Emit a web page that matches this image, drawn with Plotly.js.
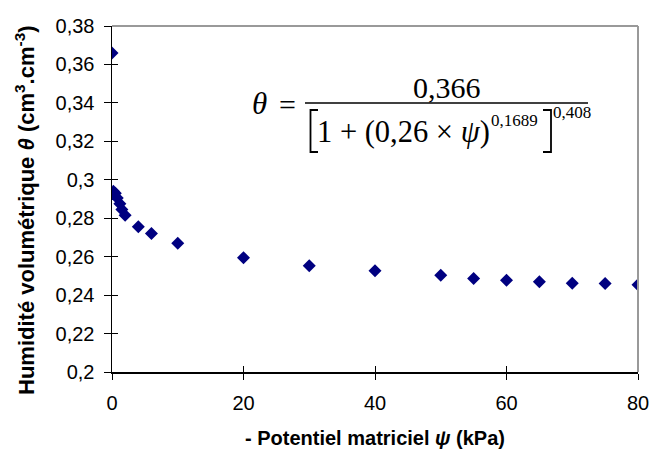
<!DOCTYPE html>
<html>
<head>
<meta charset="utf-8">
<script src="https://cdn.plot.ly/plotly-3.0.1.min.js"></script>
<style>html,body{margin:0;padding:0;background:#fff;}#chart{width:651px;height:451px;}</style>
</head>
<body>
<div id="chart"></div>
<script>
// Data
const potential = [0, 0.2, 0.5, 0.8, 1.2, 1.5, 2, 4, 6, 10, 20, 30, 40, 50, 55, 60, 65, 70, 75, 80];
const theta = [0.366, 0.294, 0.293, 0.2905, 0.2875, 0.2845, 0.2815, 0.2755, 0.272, 0.267, 0.2595, 0.2553, 0.2527, 0.2503, 0.2486, 0.2477, 0.2470, 0.2462, 0.2461, 0.2454];
const xTicks = [0, 20, 40, 60, 80];
const yTicks = [0.2, 0.22, 0.24, 0.26, 0.28, 0.3, 0.32, 0.34, 0.36, 0.38];
const yTickText = ["0,2", "0,22", "0,24", "0,26", "0,28", "0,3", "0,32", "0,34", "0,36", "0,38"];
const xTitle = '- Potentiel matriciel <i>ψ</i> (kPa)';
const yTitle = '<b>Humidité volumétrique <i>θ</i> (cm<sup>3</sup>.cm<sup>-3</sup>)</b>';

const W = 651, H = 451;
const L = 112, R = 638, T = 26, B = 372;
const px = x => (x - L) / (R - L);
const py = y => (B - y) / (B - T);

const serif = "Liberation Serif, Times New Roman, serif";
const sans = "Liberation Sans, Arial, sans-serif";

const trace = {
  x: potential, y: theta, type: 'scatter', mode: 'markers',
  marker: {symbol: 'diamond', size: 10, color: '#000080', line: {width: 0}},
  hoverinfo: 'x+y', showlegend: false
};
// invisible trace to anchor overlay axes (inside halves of crossing ticks)
const ghost = {x: [0], y: [0.2], xaxis: 'x2', yaxis: 'y2', mode: 'markers',
  marker: {opacity: 0}, showlegend: false, hoverinfo: 'skip'};

const layout = {
  width: W, height: H,
  margin: {l: L, r: W - R, t: T, b: H - B},
  paper_bgcolor: '#fff', plot_bgcolor: '#fff',
  font: {family: sans, size: 19, color: '#000'},
  xaxis: {
    range: [0, 80], tickvals: xTicks, ticktext: xTicks.map(String),
    ticks: 'outside', ticklen: 6, tickwidth: 1, tickcolor: '#000',
    showline: true, linecolor: '#000', linewidth: 1.5, showgrid: false, zeroline: false,
    tickfont: {family: sans, size: 20}, ticklabelstandoff: 6,
    title: {text: xTitle, font: {family: sans, size: 20, weight: 'bold'}, standoff: 18}
  },
  yaxis: {
    range: [0.2, 0.38], tickvals: yTicks, ticktext: yTickText,
    ticks: 'outside', ticklen: 7, tickwidth: 1, tickcolor: '#000',
    showline: true, linecolor: '#000', linewidth: 1.5, showgrid: false, zeroline: false,
    tickfont: {family: sans, size: 20}, ticklabelstandoff: 5
  },
  xaxis2: {range: [0, 80], overlaying: 'x', anchor: 'y2', tickvals: xTicks, showticklabels: false,
    ticks: 'inside', ticklen: 6, tickcolor: '#000', showline: false, showgrid: false, zeroline: false},
  yaxis2: {range: [0.2, 0.38], overlaying: 'y', anchor: 'x2', tickvals: yTicks, showticklabels: false,
    ticks: 'inside', ticklen: 6, tickcolor: '#000', showline: false, showgrid: false, zeroline: false},
  shapes: [
    // plot-area border (top & right, gray)
    {type: 'line', xref: 'paper', yref: 'paper', x0: 0, x1: 1, y0: 1, y1: 1, line: {color: '#999', width: 2}},
    {type: 'line', xref: 'paper', yref: 'paper', x0: 1, x1: 1, y0: 0, y1: 1, line: {color: '#999', width: 2}},
    // fraction bar
    {type: 'line', xref: 'paper', yref: 'paper', x0: px(305), x1: px(588), y0: py(103), y1: py(103), line: {color: '#000', width: 1.5}},
    // left bracket
    {type: 'path', xref: 'paper', yref: 'paper',
     path: `M ${px(318)} ${py(110)} L ${px(310.5)} ${py(110)} L ${px(310.5)} ${py(152)} L ${px(318)} ${py(152)}`,
     line: {color: '#000', width: 1.8}},
    // right bracket
    {type: 'path', xref: 'paper', yref: 'paper',
     path: `M ${px(543)} ${py(110)} L ${px(551)} ${py(110)} L ${px(551)} ${py(152)} L ${px(543)} ${py(152)}`,
     line: {color: '#000', width: 1.8}}
  ],
  annotations: [
    // y-axis title
    {text: yTitle, x: px(25), y: py(210), xref: 'paper', yref: 'paper', xanchor: 'center', yanchor: 'middle', textangle: -90, showarrow: false, font: {family: sans, size: 22}},
    // formula
    {text: '<i>θ</i>', x: px(259), y: py(103), xref: 'paper', yref: 'paper', xanchor: 'center', yanchor: 'middle', showarrow: false, font: {family: serif, size: 31}},
    {text: '=', x: px(287), y: py(104), xref: 'paper', yref: 'paper', xanchor: 'center', yanchor: 'middle', showarrow: false, font: {family: serif, size: 30}},
    {text: '0,366', x: px(447), y: py(87), xref: 'paper', yref: 'paper', xanchor: 'center', yanchor: 'middle', showarrow: false, font: {family: serif, size: 30}},
    {text: '1 + (0,26 × <i>ψ</i>)', x: px(315), y: py(132), xref: 'paper', yref: 'paper', xanchor: 'left', yanchor: 'middle', showarrow: false, font: {family: serif, size: 30.5}},
    {text: '0,1689', x: px(489), y: py(120), xref: 'paper', yref: 'paper', xanchor: 'left', yanchor: 'middle', showarrow: false, font: {family: serif, size: 17}},
    {text: '0,408', x: px(551), y: py(112), xref: 'paper', yref: 'paper', xanchor: 'left', yanchor: 'middle', showarrow: false, font: {family: serif, size: 17}}
  ]
};

Plotly.newPlot('chart', [trace, ghost], layout, {displayModeBar: false, staticPlot: true});
</script>
</body>
</html>
